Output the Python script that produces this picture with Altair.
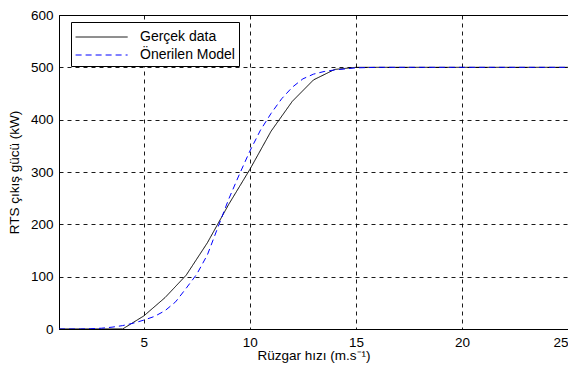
import altair as alt
import pandas as pd

# Gerçek data (measured power curve)
wind_real = [1, 2, 3, 4, 5, 6, 7, 8, 9, 10, 11, 12, 13, 14, 15, 16, 17, 18, 19, 20, 21, 22, 23, 24, 25]
power_real = [0, 0, 0, 0, 25, 60, 103, 165, 238, 305, 378, 435, 476, 496, 500, 500, 500, 500, 500, 500, 500, 500, 500, 500, 500]

# Önerilen Model (proposed model)
wind_model = [1, 2, 2.5, 3, 3.5, 4, 4.5, 5, 5.5, 6, 6.5, 7, 7.5, 8, 8.5, 9, 9.5, 10, 10.5, 11, 11.5, 12, 12.5, 13, 13.5, 14, 14.5, 15, 16, 25]
power_model = [0, 0, 0.5, 1.5, 3.5, 6.5, 11, 17, 24, 35, 52, 78, 105, 142, 195, 248, 295, 340, 380, 412, 440, 462, 478, 487, 492, 495, 497, 499, 500, 500]

series_names = ["Gerçek data", "Önerilen Model"]
x_ticks = [5, 10, 15, 20, 25]
y_ticks = [0, 100, 200, 300, 400, 500, 600]

rows = []
for i, (w, p) in enumerate(zip(wind_real, power_real)):
    rows.append({"wind": w, "power": p, "series": series_names[0], "order": i})
for i, (w, p) in enumerate(zip(wind_model, power_model)):
    rows.append({"wind": w, "power": p, "series": series_names[1], "order": i})
df = pd.DataFrame(rows)

FONT = "Arial, Liberation Sans"

chart = alt.Chart(df).mark_line(strokeWidth=1, clip=True).encode(
    x=alt.X("wind:Q",
            scale=alt.Scale(domain=[1, 25], nice=False, zero=False),
            axis=alt.Axis(values=x_ticks, title="Rüzgar hızı (m.s⁻¹)", titlePadding=0,
                          labelPadding=6)),
    y=alt.Y("power:Q",
            scale=alt.Scale(domain=[0, 600], nice=False),
            axis=alt.Axis(values=y_ticks, title="RTS çıkış gücü (kW)", titlePadding=9,
                          labelPadding=6)),
    color=alt.Color("series:N",
                    scale=alt.Scale(domain=series_names, range=["#000000", "#0000ff"]),
                    legend=alt.Legend(title=None, orient="none", legendX=12, legendY=7,
                                      symbolType="M-1,0H4", symbolSize=433,
                                      symbolStrokeWidth=1, labelOffset=43,
                                      strokeColor="#000000", fillColor="#ffffff",
                                      padding=4, rowPadding=0, labelFontSize=14,
                                      labelFont=FONT, labelColor="#000000",
                                      labelLimit=200)),
    strokeDash=alt.StrokeDash("series:N",
                              scale=alt.Scale(domain=series_names, range=[[1, 0], [6, 4]]),
                              legend=None),
    order="order:Q",
).properties(
    width=509,
    height=314,
    autosize=alt.AutoSizeParams(type="none"),
    padding={"left": 51, "top": 7, "right": 0, "bottom": 38},
).configure_view(
    stroke="#000000", strokeWidth=1
).configure_axis(
    grid=True, gridColor="#000000", gridDash=[4, 4], gridWidth=0.9, gridOpacity=1,
    ticks=False, domain=True, domainColor="#000000", domainWidth=1,
    labelFont=FONT, labelFontSize=13.5, labelColor="#000000",
    titleFont=FONT, titleFontSize=13.5, titleFontWeight="normal", titleColor="#000000",
).configure_legend(
    symbolDash=[1, 0]
)

chart.save("out.html", embed_options={"renderer": "svg", "actions": False})
